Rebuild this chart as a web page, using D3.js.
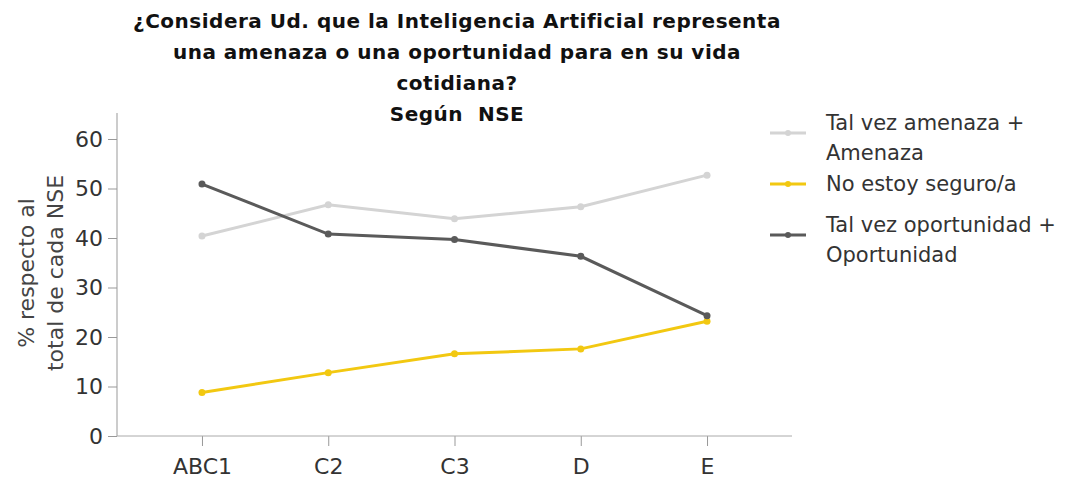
<!DOCTYPE html>
<html>
<head>
<meta charset="utf-8">
<script src="https://cdn.jsdelivr.net/npm/d3@7"></script>
<style>
  body { margin: 0; background: #fff; }
  text { font-family: "DejaVu Sans", sans-serif; }
</style>
</head>
<body>
<div id="chart"></div>
<script>
const WIDTH = 1068;
const HEIGHT = 480;

// data
const categories = ["ABC1", "C2", "C3", "D", "E"];
const amenaza = [40.4, 46.7, 43.9, 46.3, 52.7];
const noSeguro = [8.8, 12.8, 16.6, 17.6, 23.2];
const oportunidad = [50.9, 40.8, 39.7, 36.3, 24.3];
const yTicks = [0, 10, 20, 30, 40, 50, 60];
const titleLines = [
    "¿Considera Ud. que la Inteligencia Artificial representa",
    "una amenaza o una oportunidad para en su vida",
    "cotidiana?",
    "Según  NSE"
];

const series = [
    {name: ["Tal vez amenaza +", "Amenaza"], values: amenaza, color: "#d4d4d4"},
    {name: ["No estoy seguro/a"], values: noSeguro, color: "#f2c811"},
    {name: ["Tal vez oportunidad +", "Oportunidad"], values: oportunidad, color: "#5a5a5a"}
];

const svg = d3.select("#chart").append("svg")
    .attr("width", WIDTH)
    .attr("height", HEIGHT);

const plotLeft = 117, plotRight = 792, plotTop = 113, plotBottom = 436;

const x = d3.scalePoint().domain(categories).range([plotLeft, plotRight]).padding(0.673);
const y = d3.scaleLinear().domain([0, 60]).range([plotBottom, 139]);

// title
svg.append("g").selectAll("text")
    .data(titleLines)
    .enter().append("text")
    .attr("x", 457)
    .attr("y", (d, i) => 28 + i * 31)
    .attr("text-anchor", "middle")
    .attr("font-size", 20)
    .attr("letter-spacing", 0.5)
    .attr("font-weight", "bold")
    .attr("fill", "#111")
    .attr("xml:space", "preserve")
    .text(d => d);

// y axis
const yAxis = svg.append("g")
    .attr("transform", `translate(${plotLeft},0)`)
    .call(d3.axisLeft(y).tickValues(yTicks).tickSize(9).tickPadding(5));
yAxis.select(".domain").remove();
yAxis.append("line")
    .attr("y1", plotTop).attr("y2", plotBottom)
    .attr("stroke", "#999");
yAxis.selectAll(".tick line").attr("stroke", "#999");
yAxis.selectAll(".tick text")
    .attr("font-size", 22)
    .attr("fill", "#333")
    .style("font-family", "'DejaVu Sans', sans-serif");

// x axis
const xAxis = svg.append("g")
    .attr("transform", `translate(0,${plotBottom})`)
    .call(d3.axisBottom(x).tickSize(10).tickPadding(12));
xAxis.select(".domain").remove();
xAxis.append("line")
    .attr("x1", plotLeft).attr("x2", plotRight)
    .attr("stroke", "#aaa");
xAxis.selectAll(".tick line").attr("stroke", "#999");
xAxis.selectAll(".tick text")
    .attr("font-size", 22)
    .attr("fill", "#333")
    .style("font-family", "'DejaVu Sans', sans-serif");

// y axis title
svg.append("text")
    .attr("transform", "translate(34,273) rotate(-90)")
    .attr("text-anchor", "middle")
    .attr("font-size", 22)
    .attr("fill", "#444")
    .selectAll("tspan")
    .data(["% respecto al", "total de cada NSE"])
    .enter().append("tspan")
    .attr("x", 0)
    .attr("dy", (d, i) => i === 0 ? 0 : 29)
    .text(d => d);

// lines
const line = d3.line()
    .x((d, i) => x(categories[i]))
    .y(d => y(d));

const lines = svg.append("g");
series.forEach(s => {
    lines.append("path")
        .datum(s.values)
        .attr("d", line)
        .attr("fill", "none")
        .attr("stroke", s.color)
        .attr("stroke-width", 3);
    lines.selectAll(null)
        .data(s.values)
        .enter().append("circle")
        .attr("cx", (d, i) => x(categories[i]))
        .attr("cy", d => y(d))
        .attr("r", 3.5)
        .attr("fill", s.color);
});

// legend
const legendY = [133, 184, 235];
const legend = svg.append("g").selectAll("g")
    .data(series)
    .enter().append("g")
    .attr("transform", (d, i) => `translate(770,${legendY[i]})`);
legend.append("line")
    .attr("x1", 0).attr("x2", 36)
    .attr("stroke", d => d.color)
    .attr("stroke-width", 3);
legend.append("circle")
    .attr("cx", 18).attr("r", 3)
    .attr("fill", d => d.color);
legend.append("text")
    .attr("font-size", 21)
    .attr("fill", "#333")
    .selectAll("tspan")
    .data(d => d.name.map((t, i) => ({t: t, n: d.name.length, i: i})))
    .enter().append("tspan")
    .attr("x", 56)
    .attr("y", d => d.n === 1 ? 7 : (d.i === 0 ? -3 : 27))
    .text(d => d.t);
</script>
</body>
</html>
